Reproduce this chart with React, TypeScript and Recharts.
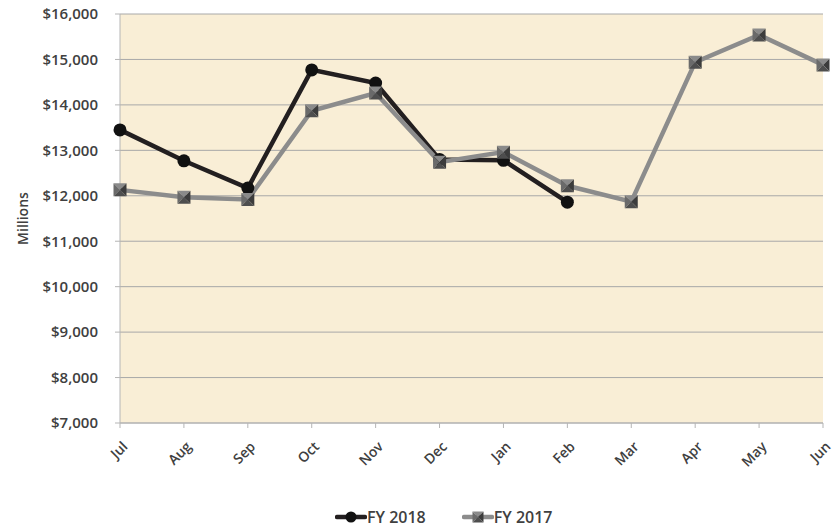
import React from 'react';
import { LineChart, Line, XAxis, YAxis, CartesianGrid } from 'recharts';

const months = ['Jul', 'Aug', 'Sep', 'Oct', 'Nov', 'Dec', 'Jan', 'Feb', 'Mar', 'Apr', 'May', 'Jun'];
const fy2018: (number | null)[] = [13450, 12770, 12170, 14770, 14480, 12800, 12780, 11860, null, null, null, null];
const fy2017: number[] = [12130, 11970, 11920, 13870, 14260, 12740, 12960, 12220, 11870, 14940, 15540, 14880];
const yTicks = [7000, 8000, 9000, 10000, 11000, 12000, 13000, 14000, 15000, 16000];

const data = months.map((m, i) => ({ month: m, fy2018: fy2018[i], fy2017: fy2017[i] }));

const FONT = '"Open Sans", "Noto Sans", sans-serif';

const SquareDot = (props: any) => {
  const { cx, cy } = props;
  if (cx == null || cy == null || props.value == null) return null;
  const s = 6.5;
  const l = cx - s, r = cx + s, t = cy - s, b = cy + s;
  return (
    <g>
      <polygon points={`${l},${t} ${r},${t} ${cx},${cy}`} fill="#8a8a8a" />
      <polygon points={`${l},${t} ${cx},${cy} ${l},${b}`} fill="#6a6a6a" />
      <polygon points={`${r},${t} ${r},${b} ${cx},${cy}`} fill="#3c3c3c" />
      <polygon points={`${l},${b} ${cx},${cy} ${r},${b}`} fill="#4e4e4e" />
    </g>
  );
};

const CircleDot = (props: any) => {
  const { cx, cy } = props;
  if (cx == null || cy == null || props.value == null) return null;
  return <circle cx={cx} cy={cy} r={6.5} fill="#111111" />;
};

const XTick = (props: any) => {
  const { x, y, payload } = props;
  const ax = x + 5;
  const ay = y + 14;
  return (
    <text
      x={ax}
      y={ay}
      dy="0.35em"
      textAnchor="end"
      transform={`rotate(-45, ${ax}, ${ay})`}
      fontFamily={FONT}
      fontSize={14}
      fontWeight={600}
      fill="#404040"
    >
      {payload.value}
    </text>
  );
};

const fmt = (v: number) => '$' + v.toLocaleString('en-US');

const YLabel = (props: any) => {
  const vb = props.viewBox || {};
  const cy = (vb.y ?? 14) + (vb.height ?? 409) / 2;
  const cx = 22;
  return (
    <text
      x={cx}
      y={cy}
      textAnchor="middle"
      dominantBaseline="central"
      transform={`rotate(-90, ${cx}, ${cy})`}
      fontFamily={FONT}
      fontSize={14}
      fontWeight={600}
      fill="#404040"
    >
      Millions
    </text>
  );
};

export default function App() {
  return (
    <div style={{ position: 'absolute', left: 0, top: 0, width: 834, height: 528, background: '#fff' }}>
      <LineChart
        width={834}
        height={528}
        data={data}
        margin={{ top: 14, right: 11, bottom: 0, left: 0 }}
      >
        <CartesianGrid
          vertical={false}
          stroke="#a8a8a8"
          fill="#f9eed6"
          fillOpacity={1}
        />
        <XAxis
          dataKey="month"
          interval={0}
          tick={<XTick />}
          tickSize={5}
          axisLine={{ stroke: '#b5b5b5' }}
          tickLine={{ stroke: '#b5b5b5' }}
          height={105}
        />
        <YAxis
          domain={[7000, 16000]}
          ticks={yTicks}
          width={120}
          tickFormatter={fmt}
          tickSize={5}
          tickMargin={17}
          axisLine={{ stroke: '#b5b5b5' }}
          tickLine={{ stroke: '#b5b5b5' }}
          tick={{ fontFamily: FONT, fontSize: 15, fontWeight: 600, fill: '#404040' }}
          label={<YLabel />}
        />
        <Line
          type="linear"
          dataKey="fy2018"
          stroke="#231f20"
          strokeWidth={4.5}
          dot={<CircleDot />}
          activeDot={false}
          isAnimationActive={false}
          connectNulls={false}
        />
        <Line
          type="linear"
          dataKey="fy2017"
          stroke="#8c8c8c"
          strokeWidth={4.5}
          dot={<SquareDot />}
          activeDot={false}
          isAnimationActive={false}
        />
      </LineChart>
      <div
        style={{
          position: 'absolute',
          top: 506,
          left: 335,
          display: 'flex',
          alignItems: 'center',
          fontFamily: FONT,
          fontSize: 16,
          fontWeight: 600,
          color: '#404040',
          lineHeight: '22px',
          whiteSpace: 'nowrap',
        }}
      >
        <div style={{ display: 'flex', alignItems: 'center' }}>
          <svg width={32} height={14}>
            <line x1={2} y1={7} x2={30} y2={7} stroke="#231f20" strokeWidth={4.5} strokeLinecap="round" />
            <circle cx={16} cy={7} r={5.5} fill="#111111" />
          </svg>
          <span>FY 2018</span>
        </div>
        <div style={{ display: 'flex', alignItems: 'center', marginLeft: 36 }}>
          <svg width={32} height={14}>
            <line x1={2} y1={7} x2={30} y2={7} stroke="#8c8c8c" strokeWidth={4.5} strokeLinecap="round" />
            <polygon points="10.5,1.5 21.5,1.5 16,7" fill="#8a8a8a" />
            <polygon points="10.5,1.5 16,7 10.5,12.5" fill="#6a6a6a" />
            <polygon points="21.5,1.5 21.5,12.5 16,7" fill="#3c3c3c" />
            <polygon points="10.5,12.5 16,7 21.5,12.5" fill="#4e4e4e" />
          </svg>
          <span>FY 2017</span>
        </div>
      </div>
    </div>
  );
}
